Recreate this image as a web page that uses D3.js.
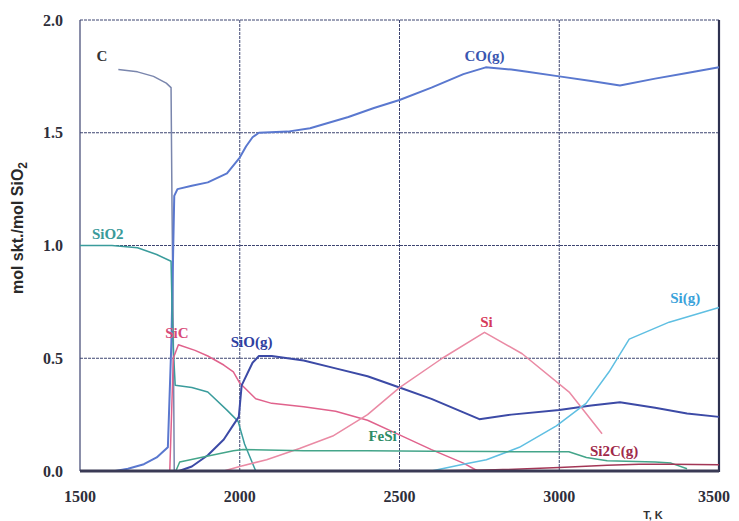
<!DOCTYPE html>
<html lang="en">
  <head>
    <meta charset="utf-8">
    <title>mol skt./mol SiO2</title>
    <script src="https://cdn.jsdelivr.net/npm/d3@7/dist/d3.min.js"></script>
    <style>
    body{margin:0;background:#fff;}
    .tick-lbl{font-family:"Liberation Serif",serif;font-weight:bold;font-size:16px;fill:#2e2e3a;}
    .series-lbl{font-family:"Liberation Serif",serif;font-weight:bold;font-size:15px;}
    .grid line{stroke:#3d4470;stroke-width:1;stroke-dasharray:3,1;}
    </style>
  </head>
  <body>
    <svg></svg>
    <script>
      // series values: [T (K), mol]
      var cData=[[1620,1.78],[1680,1.77],[1730,1.75],[1770,1.72],[1785,1.70],[1788,1.17],[1792,0.6],[1795,0.0]];
      var coData=[[1610,0.0],[1650,0.01],[1700,0.03],[1740,0.06],[1775,0.105],[1786,0.57],[1795,1.22],[1805,1.25],[1850,1.265],[1900,1.28],[1960,1.32],[2000,1.39],[2020,1.44],[2040,1.48],[2060,1.50],[2150,1.505],[2220,1.52],[2340,1.57],[2420,1.61],[2500,1.645],[2600,1.70],[2700,1.76],[2770,1.79],[2850,1.78],[2900,1.77],[3000,1.75],[3100,1.73],[3190,1.71],[3300,1.74],[3400,1.765],[3500,1.79]];
      var sio2Data=[[1500,1.0],[1600,1.0],[1680,0.99],[1740,0.96],[1785,0.93],[1790,0.6],[1798,0.38],[1850,0.37],[1900,0.35],[1960,0.27],[1995,0.22],[2015,0.12],[2050,0.0]];
      var sicData=[[1781,0.0],[1792,0.5],[1808,0.56],[1860,0.535],[1900,0.51],[1950,0.47],[1980,0.44],[2000,0.39],[2050,0.32],[2100,0.30],[2200,0.285],[2300,0.265],[2400,0.225],[2500,0.16],[2600,0.095],[2700,0.035],[2745,0.0]];
      var sioData=[[1810,0.0],[1850,0.02],[1900,0.07],[1950,0.14],[1978,0.20],[1997,0.24],[2006,0.38],[2040,0.48],[2060,0.51],[2100,0.51],[2200,0.49],[2300,0.455],[2400,0.42],[2500,0.37],[2600,0.32],[2700,0.26],[2750,0.23],[2850,0.25],[3000,0.27],[3100,0.29],[3190,0.305],[3300,0.28],[3400,0.255],[3500,0.24]];
      var siData=[[1950,0.0],[2000,0.02],[2084,0.05],[2187,0.10],[2291,0.155],[2400,0.25],[2500,0.37],[2634,0.50],[2766,0.615],[2884,0.52],[3031,0.35],[3134,0.165]];
      var sigData=[[2600,0.0],[2700,0.03],[2772,0.05],[2875,0.105],[2991,0.20],[3084,0.30],[3156,0.44],[3219,0.585],[3344,0.66],[3500,0.725]];
      var fesiData=[[1800,0.0],[1812,0.04],[1897,0.065],[1980,0.09],[2010,0.095],[2200,0.09],[2400,0.09],[2600,0.088],[2800,0.086],[3000,0.085],[3030,0.085],[3085,0.06],[3150,0.045],[3300,0.04],[3350,0.035],[3400,0.01]];
      var si2cData=[[2600,0.0],[2800,0.005],[3000,0.015],[3150,0.025],[3250,0.03],[3350,0.03],[3500,0.028]];

      var seriesNames=["C","CO(g)","SiO2","SiC","SiO(g)","Si","Si(g)","FeSi","Si2C(g)"];
      var seriesValues=[cData,coData,sio2Data,sicData,sioData,siData,sigData,fesiData,si2cData];
      var seriesColors=["#7a86ad","#5a78cf","#3a9c9c","#e0628c","#3c4aa6","#ea8aa4","#5fbfe2","#44a58a","#a33656"];
      var labelColors=["#333333","#3a56b0","#3a9a9a","#d84a78","#3040a0","#d63a5a","#3aa2da","#2e8c66","#a02a4a"];
      // label anchors in data space
      var labelT=[1569,2766,1587,1803,2037,2772,3394,2447,3172];
      var labelV=[1.84,1.84,1.05,0.615,0.571,0.664,0.77,0.155,0.088];

      var xTicks=[1500,2000,2500,3000,3500];
      var yTicks=[0,0.5,1.0,1.5,2.0];

      var width=739,height=521;
      var plotL=80,plotR=719,plotT=20,plotB=471;

      var xscale=d3.scaleLinear().domain([1500,3500]).range([plotL,plotR]);
      var yscale=d3.scaleLinear().domain([0,2]).range([plotB,plotT]);

      var svg=d3.select("svg")
                .attr("width",width)
                .attr("height",height);

      // grid
      var grid=svg.append("g").attr("class","grid");
      grid.selectAll("line.v")
          .data(xTicks.slice(1,-1))
          .enter().append("line")
          .attr("class","v")
          .attr("x1",function(d){return xscale(d);})
          .attr("x2",function(d){return xscale(d);})
          .attr("y1",plotT).attr("y2",plotB);
      grid.selectAll("line.h")
          .data(yTicks.slice(1,-1))
          .enter().append("line")
          .attr("class","h")
          .attr("x1",plotL).attr("x2",plotR)
          .attr("y1",function(d){return yscale(d);})
          .attr("y2",function(d){return yscale(d);});

      // frame
      svg.append("line").attr("x1",plotL).attr("x2",plotR).attr("y1",plotT).attr("y2",plotT)
         .attr("stroke","#3d4470").attr("stroke-width",1).attr("stroke-dasharray","3,1");
      svg.append("line").attr("x1",plotL).attr("x2",plotL).attr("y1",plotT).attr("y2",plotB)
         .attr("stroke","#3d4470").attr("stroke-width",1.2);
      svg.append("line").attr("x1",plotR).attr("x2",plotR).attr("y1",plotT).attr("y2",plotB+1)
         .attr("stroke","#2e3150").attr("stroke-width",2.2);

      // series
      var lineLinear=d3.line()
                 .x(function(d){return xscale(d[0]);})
                 .y(function(d){return yscale(d[1]);});
      seriesValues.forEach(function(vals,i){
        svg.append("path")
           .datum(vals)
           .attr("fill","none")
           .attr("stroke",seriesColors[i])
           .attr("stroke-width",i==1||i==4?2:1.5)
           .attr("stroke-linejoin","round")
           .attr("d",lineLinear);
      });

      // bottom axis line
      svg.append("line").attr("x1",plotL).attr("x2",plotR).attr("y1",plotB).attr("y2",plotB)
         .attr("stroke","#3a3a55").attr("stroke-width",3);

      // series labels
      svg.selectAll("text.series-lbl")
         .data(seriesNames)
         .enter().append("text")
         .attr("class","series-lbl")
         .attr("x",function(d,i){return xscale(labelT[i]);})
         .attr("y",function(d,i){return yscale(labelV[i]);})
         .attr("dy","0.35em")
         .attr("text-anchor","middle")
         .attr("fill",function(d,i){return labelColors[i];})
         .text(function(d){return d;});

      // tick labels
      svg.selectAll("text.xt")
         .data(xTicks)
         .enter().append("text")
         .attr("class","tick-lbl xt")
         .attr("x",function(d,i){return xscale(d)-(i==4?5:0);})
         .attr("y",496)
         .attr("dy","0.35em")
         .attr("text-anchor","middle")
         .text(function(d){return d;});
      svg.selectAll("text.yt")
         .data(yTicks)
         .enter().append("text")
         .attr("class","tick-lbl yt")
         .attr("x",63)
         .attr("y",function(d){return yscale(d);})
         .attr("dy","0.35em")
         .attr("text-anchor","end")
         .text(function(d){return d.toFixed(1);});

      // axis titles
      svg.append("text")
         .attr("x",653).attr("y",519)
         .attr("text-anchor","middle")
         .attr("font-family","Liberation Sans, sans-serif")
         .attr("font-weight","bold")
         .attr("font-size","11px")
         .attr("fill","#333")
         .text("T, K");
      var yt=svg.append("text")
         .attr("transform","translate(23,228) rotate(-90)")
         .attr("text-anchor","middle")
         .attr("font-family","Liberation Sans, sans-serif")
         .attr("font-weight","bold")
         .attr("font-size","16px")
         .attr("fill","#2a2a2a");
      yt.append("tspan").text("mol skt./mol SiO");
      yt.append("tspan").attr("dy","4").attr("font-size","12px").text("2");
    </script>
  </body>
</html>
